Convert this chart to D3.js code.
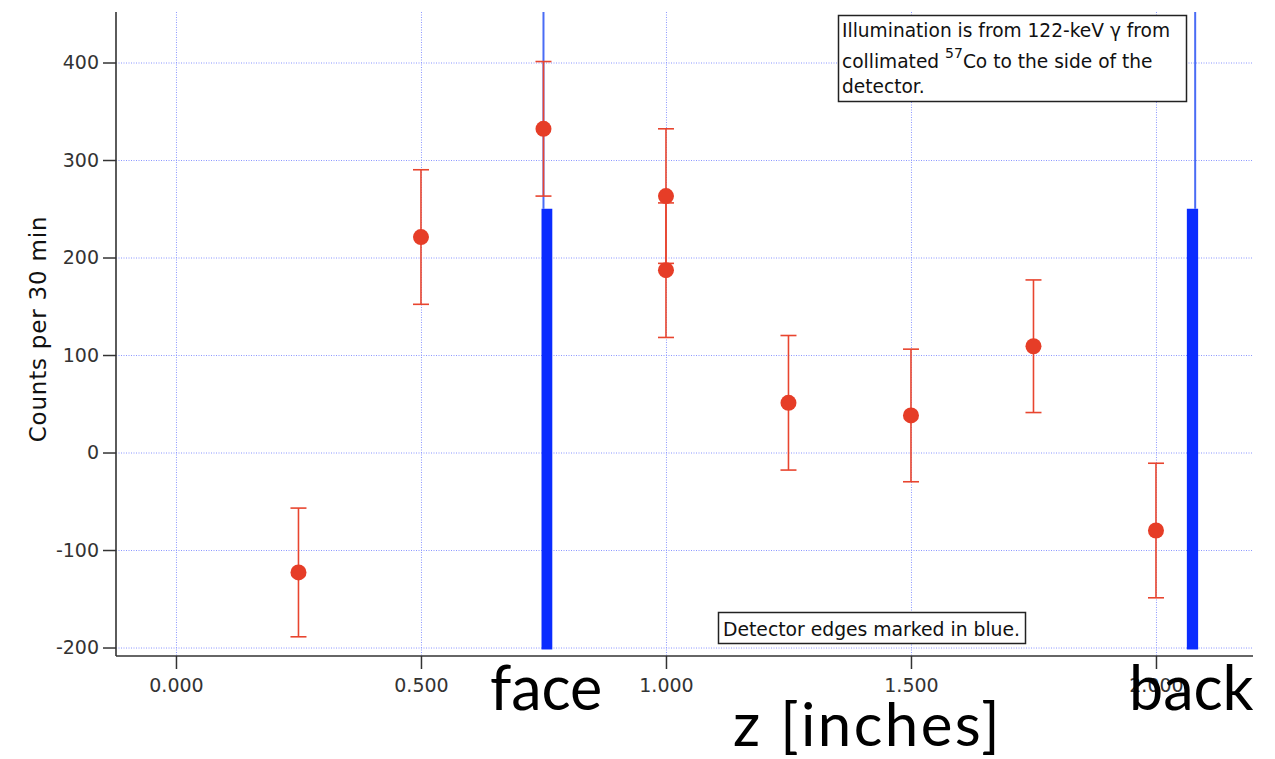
<!DOCTYPE html>
<html>
<head>
<meta charset="utf-8">
<script src="https://cdn.jsdelivr.net/npm/d3@7/dist/d3.min.js"></script>
<style>
  html, body { margin: 0; padding: 0; background: #fff; }
  svg { display: block; }
</style>
</head>
<body>
<svg id="chart" width="1275" height="759"></svg>
<script>
// Measured counts vs. depth along the detector
const zPos   = [0.25, 0.5, 0.75, 1.0, 1.0, 1.25, 1.5, 1.75, 2.0];
const counts = [-123, 221, 332, 263, 187, 51, 38, 109, -80];
const errs   = [66, 69, 69, 69, 69, 69, 68, 68, 69];

// Detector edges (face and back)
const edgeNames    = ["face", "back"];
const edgeLineZ    = [0.75, 2.08];
const edgeBarStart = [0.746, 2.063];
const edgeBarEnd   = [0.768, 2.086];
const edgeBarTop   = [250, 250];
const edgeBarBot   = [-202, -202];

// Tick values and labels
const xTicks = [0, 0.5, 1.0, 1.5, 2.0];
const xTickLabels = ["0.000", "0.500", "1.000", "1.500", "2.000"];
const yTicks = [-200, -100, 0, 100, 200, 300, 400];

const svg = d3.select("#chart");
const plotL = 116, plotR = 1253, plotT = 12, plotB = 656;

const x = d3.scaleLinear().domain([-0.1224, 2.198]).range([plotL, plotR]);
const y = d3.scaleLinear().domain([-208.7, 451.8]).range([plotB, plotT]);

const tickFont = "'DejaVu Sans', Verdana, sans-serif";
const bigFont = "Lato, 'Open Sans', sans-serif";

// Grid
const grid = svg.append("g").attr("stroke", "#7f8cff").attr("stroke-width", 1)
  .attr("stroke-dasharray", "1,1.5").attr("opacity", 0.9);
grid.selectAll("line.h").data(yTicks).join("line")
  .attr("x1", plotL).attr("x2", plotR)
  .attr("y1", d => y(d) + 0.5).attr("y2", d => y(d) + 0.5);
grid.selectAll("line.v").data(xTicks).join("line")
  .attr("y1", plotT).attr("y2", plotB)
  .attr("x1", d => x(d) + 0.5).attr("x2", d => x(d) + 0.5);

// Axes
const yAxis = d3.axisLeft(y).tickValues(yTicks).tickFormat(d => String(d))
  .tickSize(13).tickPadding(4);
const gy = svg.append("g").attr("transform", `translate(${plotL},0)`).call(yAxis);
gy.select(".domain").remove();
gy.selectAll(".tick line").attr("stroke", "#333").attr("stroke-width", 1.5);
gy.selectAll(".tick text").attr("font-family", tickFont).attr("font-size", 19)
  .attr("fill", "#333");

const xAxis = d3.axisBottom(x).tickValues(xTicks)
  .tickFormat((d, i) => xTickLabels[i]).tickSize(13).tickPadding(10);
const gx = svg.append("g").attr("transform", `translate(0,${plotB})`).call(xAxis);
gx.select(".domain").remove();
gx.selectAll(".tick line").attr("stroke", "#333").attr("stroke-width", 1.5);
gx.selectAll(".tick text").attr("font-family", tickFont).attr("font-size", 19)
  .attr("fill", "#333");

svg.append("line").attr("x1", plotL).attr("x2", plotL).attr("y1", plotT).attr("y2", plotB)
  .attr("stroke", "#333").attr("stroke-width", 1.6);
svg.append("line").attr("x1", plotL).attr("x2", plotR).attr("y1", plotB).attr("y2", plotB)
  .attr("stroke", "#333").attr("stroke-width", 1.6);

// Y label
svg.append("text")
  .attr("transform", `translate(46,329) rotate(-90)`)
  .attr("text-anchor", "middle")
  .attr("font-family", tickFont).attr("font-size", 23).attr("fill", "#111")
  .attr("letter-spacing", 0.8)
  .text("Counts per 30 min");

// Detector edges
const edges = edgeNames.map((n, i) => ({
  name: n, line: edgeLineZ[i], b0: edgeBarStart[i], b1: edgeBarEnd[i],
  hi: edgeBarTop[i], lo: edgeBarBot[i]
}));
svg.append("g").selectAll("line").data(edges).join("line")
  .attr("x1", d => x(d.line)).attr("x2", d => x(d.line))
  .attr("y1", plotT).attr("y2", d => y(d.hi))
  .attr("stroke", "#4a6cf5").attr("stroke-width", 2);
svg.append("g").selectAll("rect").data(edges).join("rect")
  .attr("x", d => x(d.b0)).attr("width", d => x(d.b1) - x(d.b0))
  .attr("y", d => y(d.hi)).attr("height", d => y(d.lo) - y(d.hi))
  .attr("fill", "#0a2cff");

// Error bars and points
const pts = zPos.map((z, i) => ({ z, c: counts[i], e: errs[i] }));
const eg = svg.append("g").attr("stroke", "#e8452f").attr("stroke-width", 1.6);
eg.selectAll("line.bar").data(pts).join("line")
  .attr("x1", d => x(d.z)).attr("x2", d => x(d.z))
  .attr("y1", d => y(d.c + d.e)).attr("y2", d => y(d.c - d.e));
eg.selectAll("line.capT").data(pts).join("line")
  .attr("x1", d => x(d.z) - 8).attr("x2", d => x(d.z) + 8)
  .attr("y1", d => y(d.c + d.e)).attr("y2", d => y(d.c + d.e));
eg.selectAll("line.capB").data(pts).join("line")
  .attr("x1", d => x(d.z) - 8).attr("x2", d => x(d.z) + 8)
  .attr("y1", d => y(d.c - d.e)).attr("y2", d => y(d.c - d.e));
svg.append("g").selectAll("circle").data(pts).join("circle")
  .attr("cx", d => x(d.z)).attr("cy", d => y(d.c)).attr("r", 8)
  .attr("fill", "#e63d27");

// Annotation boxes
const note = svg.append("g");
note.append("rect").attr("x", 838.5).attr("y", 15.5).attr("width", 348).attr("height", 86)
  .attr("fill", "#fff").attr("stroke", "#222").attr("stroke-width", 1.5);
const nt = note.append("text").attr("font-family", tickFont).attr("font-size", 18.6)
  .attr("fill", "#111");
nt.append("tspan").attr("x", 842).attr("y", 37).text("Illumination is from 122-keV \u03b3 from");
nt.append("tspan").attr("x", 842).attr("y", 68).text("collimated ");
nt.append("tspan").attr("font-size", 14).attr("dy", -10).text("57");
nt.append("tspan").attr("dy", 10).text("Co to the side of the");
nt.append("tspan").attr("x", 842).attr("y", 93).text("detector.");

const note2 = svg.append("g");
note2.append("rect").attr("x", 718.5).attr("y", 612.5).attr("width", 307).attr("height", 31)
  .attr("fill", "#fff").attr("stroke", "#222").attr("stroke-width", 1.5);
note2.append("text").attr("x", 723).attr("y", 636)
  .attr("font-family", tickFont).attr("font-size", 18.8).attr("fill", "#111")
  .attr("textLength", 297).attr("lengthAdjust", "spacing")
  .text("Detector edges marked in blue.");

// Large labels
svg.append("g").selectAll("text").data(edges).join("text")
  .attr("x", (d, i) => i === 0 ? 490 : 1129).attr("y", 710)
  .attr("font-family", bigFont).attr("font-size", 61).attr("fill", "#000")
  .text(d => d.name);
svg.append("text").attr("x", 733).attr("y", 746)
  .attr("font-family", bigFont).attr("font-size", 60).attr("fill", "#000")
  .attr("letter-spacing", 2.4)
  .text("z [inches]");
</script>
</body>
</html>
